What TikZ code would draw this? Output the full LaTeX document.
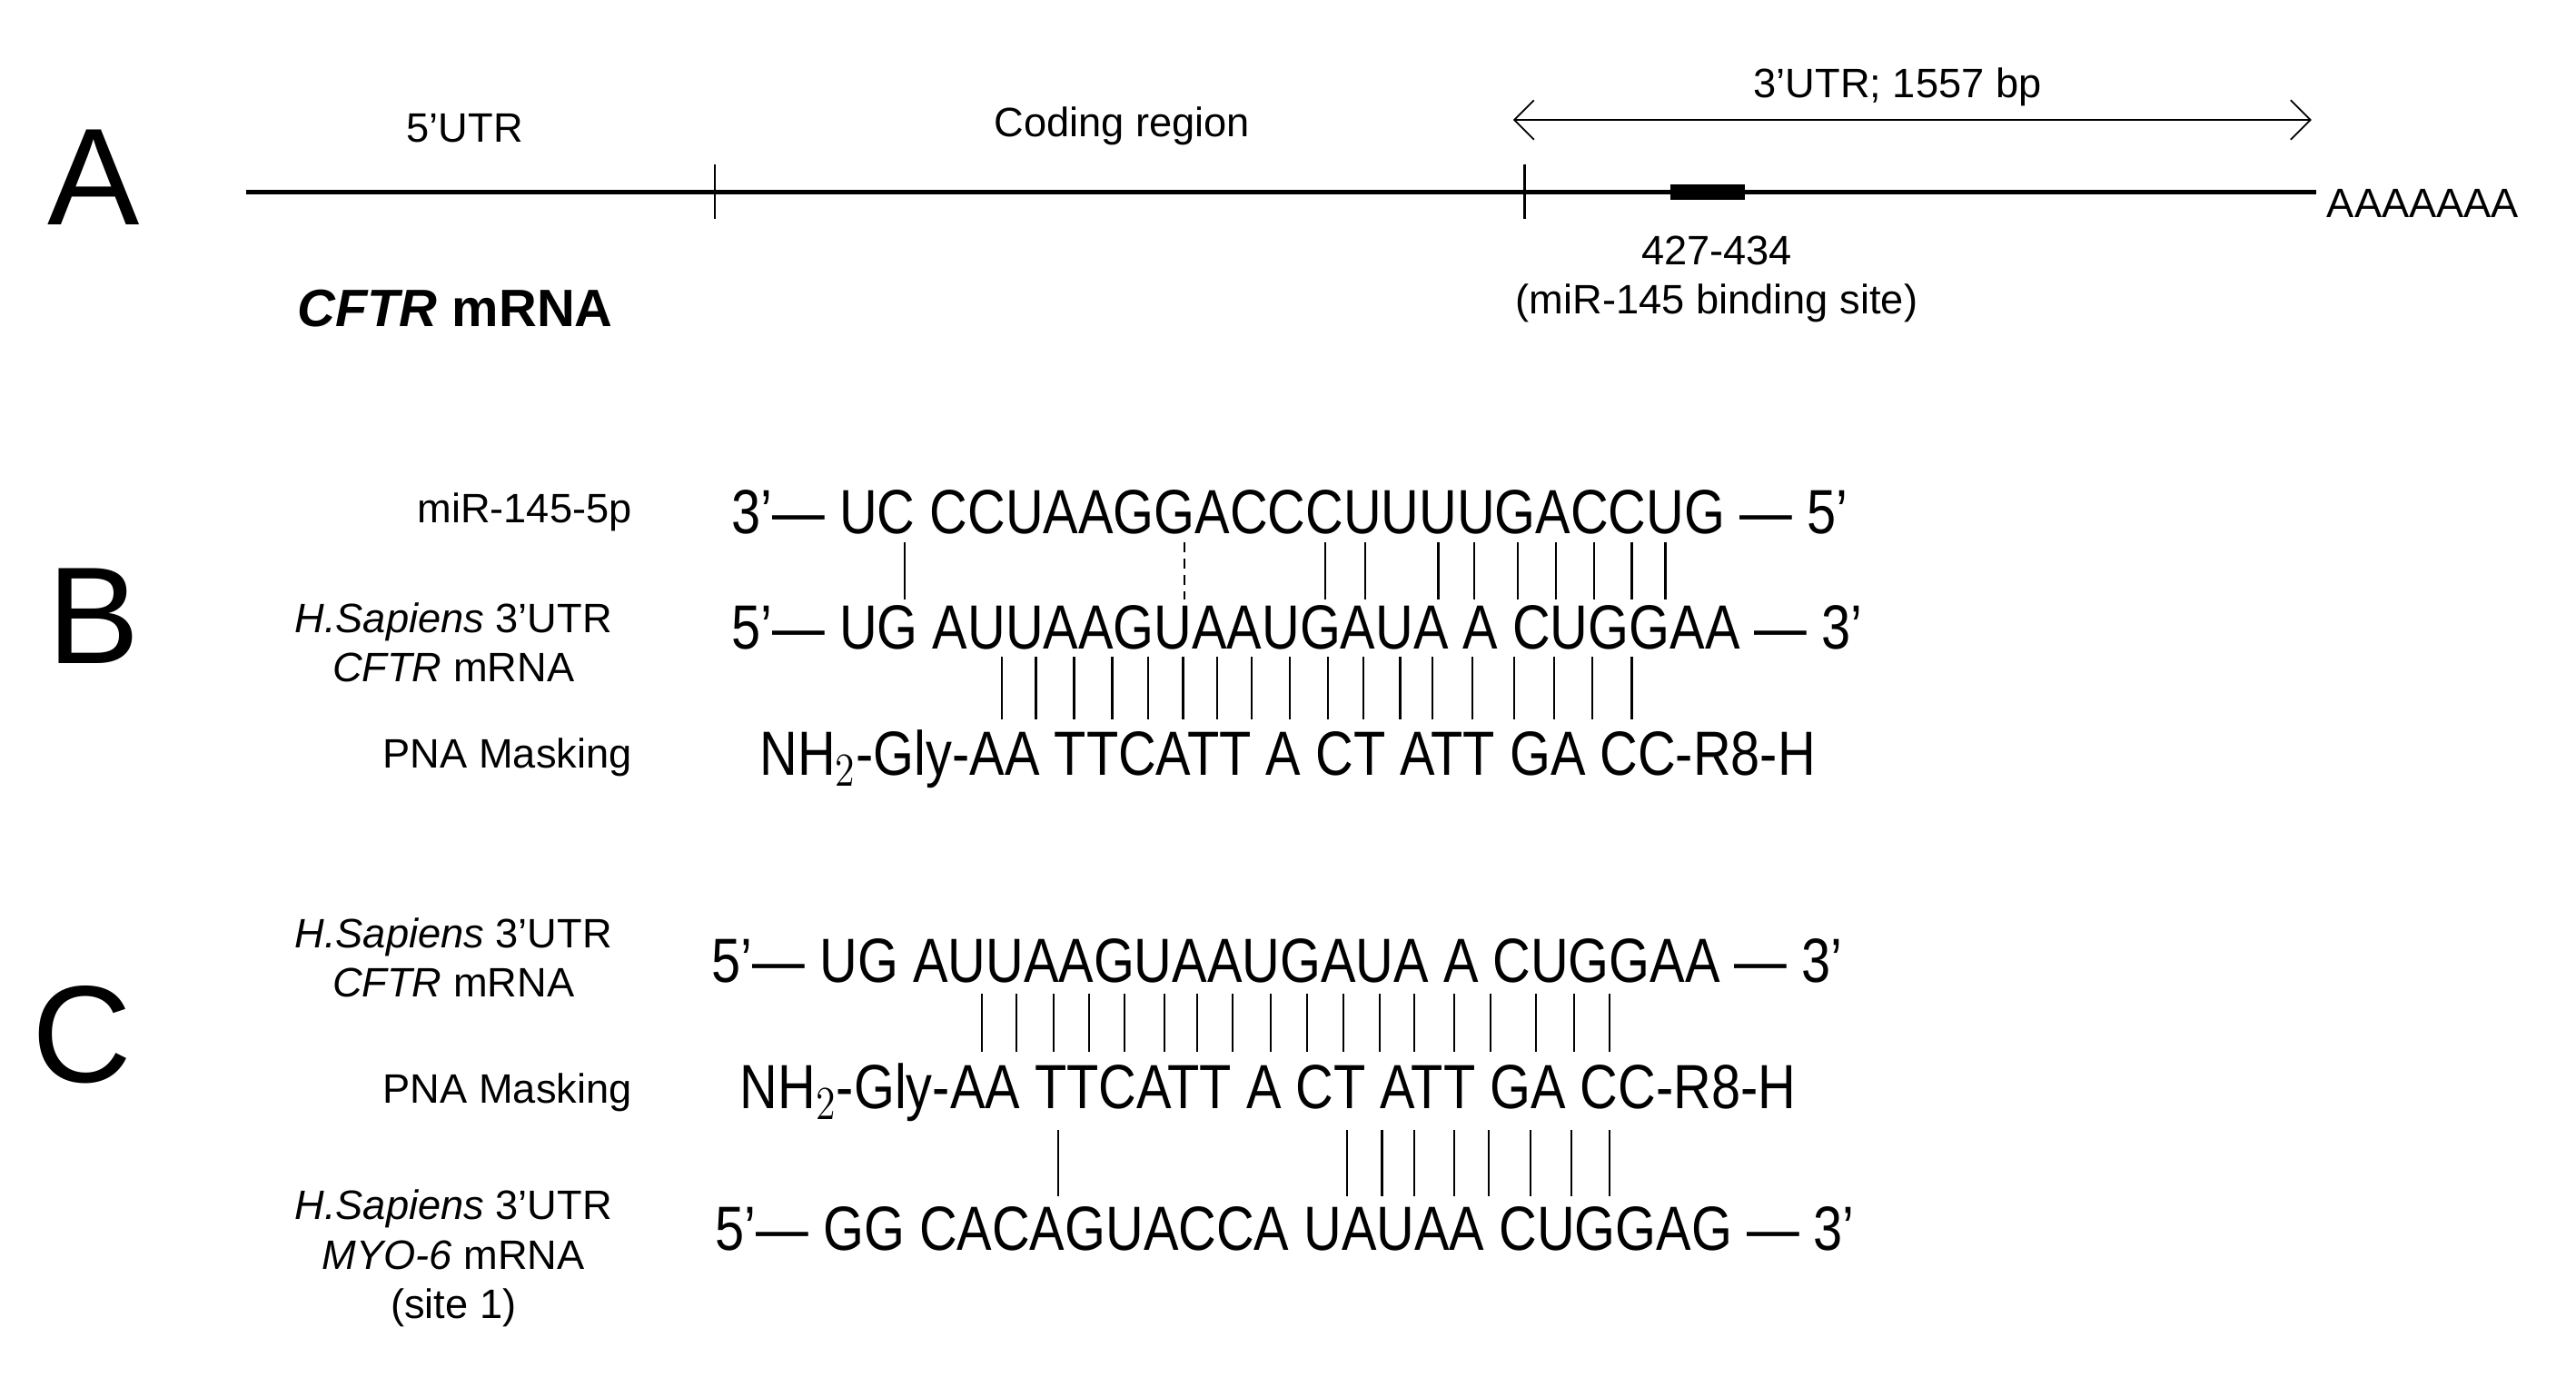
\documentclass[tikz,border=0pt]{standalone}
\usepackage{fontspec}
\setmainfont{Liberation Sans}
\usepackage{graphicx}
\usetikzlibrary{arrows.meta}
\newcommand{\sq}[1]{\scalebox{0.84}[1]{\fontsize{19}{19}\selectfont #1}}
\tikzset{
  big/.style={font=\fontsize{42}{42}\selectfont, inner sep=0pt},
  lab/.style={font=\fontsize{12.5}{15}\selectfont, inner sep=0pt, align=center},
  seq/.style={inner sep=0pt, anchor=west},
  bar/.style={line width=0.6pt},
}
\begin{document}
\begin{tikzpicture}[x=0.5pt,y=-0.5pt]
\useasboundingbox (0,0) rectangle (1568,838);
% Panel A
\node[big] (A) at (57,108) {A};
\coordinate (l0) at (150,117);
\coordinate (l1) at (1410,117);
\draw[line width=1.3pt] (l0) -- (l1);
\draw[line width=0.6pt] (435,100) -- (435,133);
\draw[line width=0.6pt] (928,100) -- (928,133);
\draw[line width=4.5pt] (1017,117) -- (1062,117);
\node[lab, anchor=west] (poly) at (1416,124) {AAAAAAA};
\node[lab] (u5) at (283,78) {5’UTR};
\node[lab] (cod) at (683,77) {Coding region};
\node[lab] (u3) at (1155,53) {3’UTR; 1557 bp};
\coordinate (a0) at (921,73);
\coordinate (a1) at (1407,73);
\draw[{Straight Barb[length=6pt]}-{Straight Barb[length=6pt]}, line width=0.5pt] (a0) -- (a1);
\node[lab] (site) at (1045,170) {427-434\\(miR-145 binding site)};
\node[inner sep=0pt, font=\fontsize{16}{16}\selectfont\bfseries] (cftr) at (277,188) {\textit{CFTR} mRNA};
% Panel B
\node[big] (B) at (57,375) {B};
\node[lab, anchor=east] (bl1) at (385,312) {miR-145-5p};
\node[lab] (bl2) at (276,391) {\textit{H.Sapiens} 3’UTR\\\textit{CFTR} mRNA};
\node[lab, anchor=east] (bl3) at (385,461) {PNA Masking};
\node[seq] (b1) at (445,312) {\sq{3’--- UC CCUAAGGACCCUUUUGACCUG --- 5’}};
\node[seq] (b2) at (445,382) {\sq{5’--- UG AUUAAGUAAUGAUA A CUGGAA --- 3’}};
\node[seq] (b3) at (462,462) {\sq{NH$_2$-Gly-AA TTCATT A CT ATT GA CC-R8-H}};
\foreach \x in {550.9,806.8,831,875.5,897.3,923.7,946.9,970.1,993.3,1013.7}
  \draw[bar] (\x,330) -- (\x,365);
\draw[bar, densely dashed] (721.1,330) -- (721.1,365);
\foreach \x in {609.8,630.6,653.8,677.0,698.8,720.1,741.0,761.9,785.1,808.2,830.0,852.3,871.8,896.3,921.8,946.0,969.1,993.3}
  \draw[bar] (\x,400) -- (\x,438);
% Panel C
\node[big] (C) at (50,630) {C};
\node[lab] (cl1) at (276,583) {\textit{H.Sapiens} 3’UTR\\\textit{CFTR} mRNA};
\node[lab, anchor=east] (cl2) at (385,665) {PNA Masking};
\node[lab] (cl3) at (276,766) {\textit{H.Sapiens} 3’UTR\\\textit{MYO-6} mRNA\\(site 1)};
\node[seq] (c1) at (433,585) {\sq{5’--- UG AUUAAGUAAUGAUA A CUGGAA --- 3’}};
\node[seq] (c2) at (450,665) {\sq{NH$_2$-Gly-AA TTCATT A CT ATT GA CC-R8-H}};
\node[seq] (c3) at (435,748) {\sq{5’--- GG CACAGUACCA UAUAA CUGGAG --- 3’}};
\foreach \x in {597.8,618.7,641.4,662.7,684.5,708.6,728.6,750.4,773.5,795.8,817.6,839.8,860.7,885.3,907.1,934.9,958.1,979.9}
  \draw[bar] (\x,605) -- (\x,640);
\foreach \x in {644.2,819.9,841.2,860.7,885.3,906.2,931.7,956.7,979.9}
  \draw[bar] (\x,688) -- (\x,728);
\end{tikzpicture}
\end{document}
